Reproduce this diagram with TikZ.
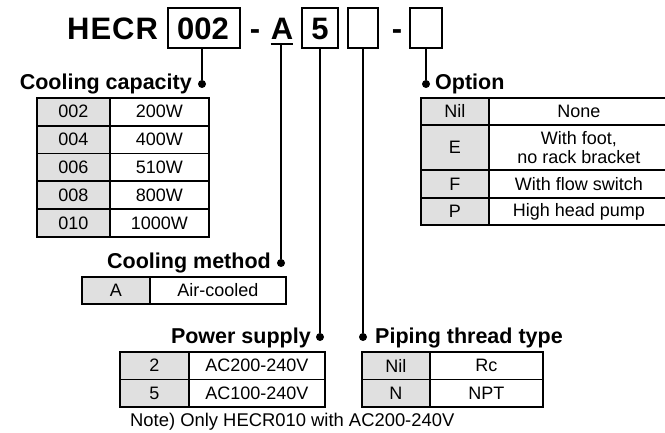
\documentclass[tikz,border=0pt]{standalone}
\usepackage{fontspec}
\setmainfont{Liberation Sans}
\usepackage{xcolor}
\usetikzlibrary{positioning}
\definecolor{keygray}{HTML}{E0E0E0}

\begin{document}
\begin{tikzpicture}[
    x=1pt, y=-1pt,
    font=\fontsize{18}{19.5}\selectfont,
    cell/.style={rectangle, draw, line width=1.8pt, inner sep=0pt, anchor=north west, align=center},
    key/.style={cell, fill=keygray},
    head/.style={inner sep=0pt, font=\fontsize{21.5}{23}\selectfont\bfseries},
    title/.style={inner sep=0pt, anchor=base, font=\fontsize{31}{32}\selectfont\bfseries},
    slot/.style={rectangle, draw, line width=1.8pt, inner sep=0pt, minimum height=40pt},
    dot/.style={circle, fill, inner sep=0pt, minimum size=8pt},
    lead/.style={line width=1.8pt}
]
    \useasboundingbox (0,0) rectangle (665,433);

    % Model code
    \node[title, anchor=base west] (hecr) at (67,40) {H\kern1pt E\kern1pt C\kern1pt R};
    \node[slot, minimum width=72pt] (b002) at (204,28) {};
    \node[title] (t002) at (203,40) {002};
    \node[title] (dash1) at (255,40) {-};
    \node[title] (tA) at (282,40) {A};
    \coordinate (uA) at ([yshift=-4pt]tA.base);
    \draw[line width=2.6pt] ([yshift=-4pt]tA.base west) -- ([yshift=-4pt]tA.base east);
    \node[slot, minimum width=36pt] (b5) at (320,28) {};
    \node[title] (t5) at (320,40) {5};
    \node[slot, minimum width=30pt] (bpipe) at (363,28) {};
    \node[title] (dash2) at (397,40) {-};
    \node[slot, minimum width=32pt] (bopt) at (426,28) {};

    % Cooling capacity
    \node[dot] (capdot) at (202,84) {};
    \node[head, anchor=base east] (caphead) at (192,90) {Cooling capacity};
    \node[key, minimum width=73pt, minimum height=27.8pt] (c1k) at (36,97) {002};
    \node[cell, minimum width=99pt, minimum height=27.8pt] (c1v) at (109,97) {200W};
    \node[key, minimum width=73pt, minimum height=27.8pt] (c2k) at (36,124.8) {004};
    \node[cell, minimum width=99pt, minimum height=27.8pt] (c2v) at (109,124.8) {400W};
    \node[key, minimum width=73pt, minimum height=27.8pt] (c3k) at (36,152.6) {006};
    \node[cell, minimum width=99pt, minimum height=27.8pt] (c3v) at (109,152.6) {510W};
    \node[key, minimum width=73pt, minimum height=27.8pt] (c4k) at (36,180.4) {008};
    \node[cell, minimum width=99pt, minimum height=27.8pt] (c4v) at (109,180.4) {800W};
    \node[key, minimum width=73pt, minimum height=27.8pt] (c5k) at (36,208.2) {010};
    \node[cell, minimum width=99pt, minimum height=27.8pt] (c5v) at (109,208.2) {1000W};

    % Option
    \node[dot] (optdot) at (426,84) {};
    \node[head, anchor=base west] (opthead) at (435,90) {Option};
    \node[key, minimum width=68pt, minimum height=27pt] (o1k) at (420,97) {Nil};
    \node[cell, minimum width=180pt, minimum height=27pt] (o1v) at (488,97) {None};
    \node[key, minimum width=68pt, minimum height=45pt] (o2k) at (420,124) {E};
    \node[cell, minimum width=180pt, minimum height=45pt] (o2v) at (488,124) {With foot,\\no rack bracket};
    \node[key, minimum width=68pt, minimum height=28pt] (o3k) at (420,169) {F};
    \node[cell, minimum width=180pt, minimum height=28pt] (o3v) at (488,169) {With flow switch};
    \node[key, minimum width=68pt, minimum height=27pt] (o4k) at (420,197) {P};
    \node[cell, minimum width=180pt, minimum height=27pt] (o4v) at (488,197) {High head pump};

    % Cooling method
    \node[dot] (methdot) at (281,263) {};
    \node[head, anchor=base east] (methhead) at (271,269) {Cooling method};
    \node[key, minimum width=68pt, minimum height=27pt] (m1k) at (81,276) {A};
    \node[cell, minimum width=136pt, minimum height=27pt] (m1v) at (149,276) {Air-cooled};

    % Power supply
    \node[dot] (powdot) at (320,337) {};
    \node[head, anchor=base east] (powhead) at (311,343) {Power supply};
    \node[key, minimum width=69pt, minimum height=27.5pt] (p1k) at (119,351) {2};
    \node[cell, minimum width=136pt, minimum height=27.5pt] (p1v) at (188,351) {AC200-240V};
    \node[key, minimum width=69pt, minimum height=27.5pt] (p2k) at (119,378.5) {5};
    \node[cell, minimum width=136pt, minimum height=27.5pt] (p2v) at (188,378.5) {AC100-240V};
    \node[anchor=base west, inner sep=0pt, font=\fontsize{18.4}{20}\selectfont] (note) at (130,426) {Note) Only HECR010 with AC200-240V};

    % Piping thread type
    \node[dot] (pipedot) at (363,337) {};
    \node[head, anchor=base west] (pipehead) at (375,343) {Piping thread type};
    \node[key, minimum width=68pt, minimum height=27.5pt] (t1k) at (361,351) {Nil};
    \node[cell, minimum width=113pt, minimum height=27.5pt] (t1v) at (429,351) {Rc};
    \node[key, minimum width=68pt, minimum height=27.5pt] (t2k) at (361,378.5) {N};
    \node[cell, minimum width=113pt, minimum height=27.5pt] (t2v) at (429,378.5) {NPT};

    % Leads
    \draw[lead] (capdot |- b002.south) -- (capdot);
    \draw[lead] (methdot |- uA) -- (methdot);
    \draw[lead] (b5.south) -- (powdot);
    \draw[lead] (bpipe.south) -- (pipedot);
    \draw[lead] (bopt.south) -- (optdot);

\end{tikzpicture}
\end{document}
